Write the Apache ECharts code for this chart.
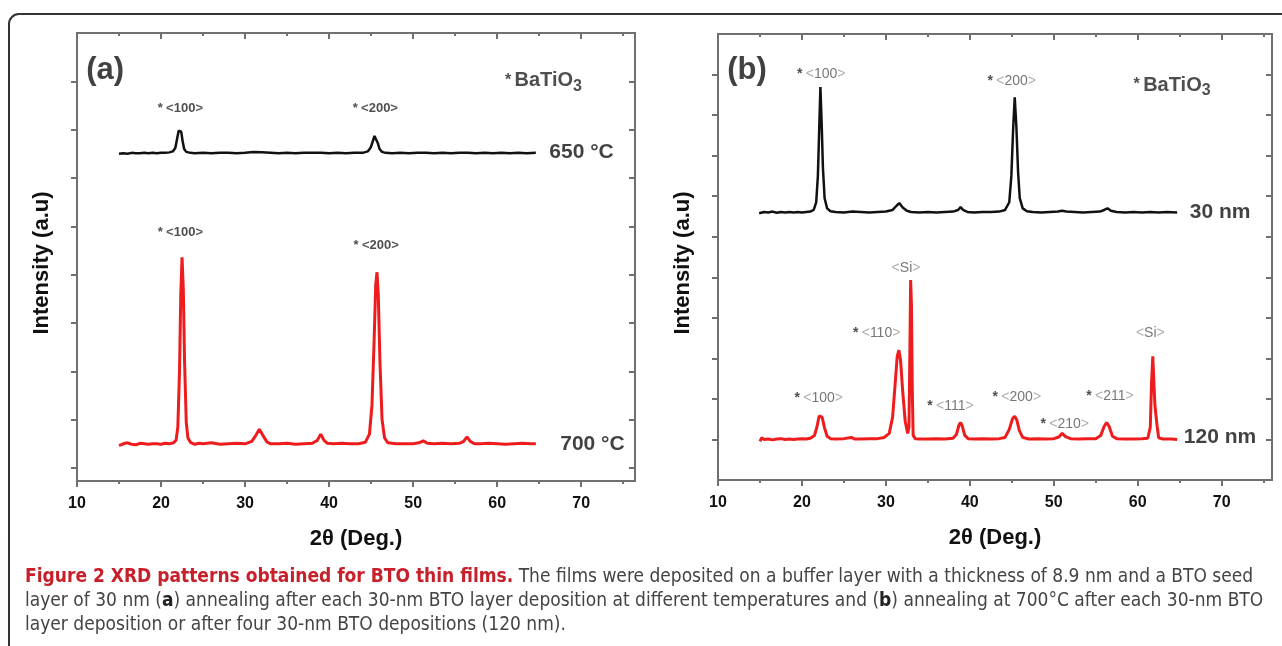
<!DOCTYPE html>
<html>
<head>
    <meta charset="utf-8">
    <title>XRD BTO</title>
    <script src="https://cdn.jsdelivr.net/npm/echarts@6/dist/echarts.min.js"></script>
    <style>
        html, body { margin: 0; padding: 0; background: #fff; }
        #chart { width: 1282px; height: 646px; }
    </style>
</head>
<body>
<div id="chart"></div>
<script type="text/javascript">
    // 2theta (deg) vs intensity (a.u., one unit = one y tick)
    var a650 = [[15.0,6.50],[15.5,6.51],[16,6.50],[16.5,6.52],[17,6.51],[17.5,6.51],[18,6.52],[18.5,6.51],[19,6.52],[19.5,6.51],[20,6.52],[20.5,6.52],[21,6.53],[21.4,6.55],[21.7,6.62],[21.9,6.80],[22.1,6.98],[22.25,7.02],[22.4,6.96],[22.55,6.78],[22.75,6.60],[23.0,6.54],[23.5,6.52],[24,6.51],[25,6.52],[26,6.51],[27,6.52],[28,6.52],[29,6.51],[30,6.52],[31,6.54],[32,6.53],[33,6.52],[34,6.51],[35,6.52],[36,6.51],[37,6.52],[38,6.52],[39,6.52],[40,6.51],[41,6.52],[42,6.51],[43,6.52],[44,6.52],[44.6,6.55],[44.95,6.63],[45.2,6.76],[45.4,6.87],[45.5,6.88],[45.6,6.85],[45.8,6.72],[46.0,6.60],[46.3,6.54],[46.7,6.52],[47.5,6.51],[48.5,6.52],[49.5,6.51],[50.5,6.52],[51.5,6.52],[52.5,6.51],[53.5,6.52],[54.5,6.51],[55.5,6.52],[56.5,6.52],[57.5,6.51],[58.5,6.52],[59.5,6.51],[60.5,6.52],[61.5,6.51],[62.5,6.52],[63.5,6.51],[64.6,6.52]];
    var a700 = [[15,0.46],[15.5,0.50],[16,0.52],[16.5,0.49],[17,0.48],[17.5,0.51],[18,0.50],[18.5,0.49],[19,0.50],[19.5,0.50],[20,0.49],[20.5,0.51],[21,0.50],[21.5,0.52],[21.8,0.58],[22.0,0.85],[22.2,2.0],[22.35,3.6],[22.5,4.36],[22.65,3.7],[22.8,2.2],[23.0,0.95],[23.2,0.62],[23.5,0.53],[24,0.49],[24.5,0.51],[25,0.50],[26,0.52],[27,0.49],[28,0.50],[29,0.51],[30,0.50],[30.8,0.55],[31.3,0.68],[31.7,0.80],[32.1,0.68],[32.6,0.54],[33,0.50],[34,0.50],[35,0.51],[36,0.49],[37,0.50],[38,0.51],[38.6,0.57],[39.0,0.70],[39.4,0.57],[39.8,0.51],[40.5,0.50],[41.5,0.51],[42.5,0.50],[43.5,0.50],[44.3,0.53],[44.8,0.70],[45.1,1.3],[45.35,2.6],[45.55,3.8],[45.7,4.05],[45.85,3.6],[46.05,2.2],[46.3,1.0],[46.6,0.62],[47,0.52],[48,0.50],[49,0.50],[50,0.50],[50.7,0.52],[51.2,0.56],[51.7,0.51],[52.5,0.50],[53.5,0.51],[54.5,0.50],[55.5,0.51],[56.0,0.55],[56.4,0.64],[56.8,0.55],[57.3,0.50],[58,0.50],[59,0.51],[60,0.50],[61,0.49],[62,0.50],[63,0.51],[64,0.50],[64.6,0.50]];
    var b30 = [[14.9,5.58],[15.5,5.61],[16,5.60],[16.5,5.62],[17,5.59],[17.5,5.61],[18,5.60],[18.5,5.61],[19,5.60],[19.5,5.61],[20,5.60],[20.5,5.61],[21,5.62],[21.4,5.66],[21.7,5.85],[21.9,6.5],[22.05,7.6],[22.2,8.69],[22.35,7.8],[22.5,6.7],[22.7,5.95],[23.0,5.70],[23.4,5.63],[24,5.61],[25,5.60],[26,5.62],[27,5.61],[28,5.60],[29,5.61],[30,5.62],[30.8,5.66],[31.3,5.77],[31.6,5.83],[32.0,5.72],[32.5,5.64],[33,5.61],[34,5.60],[35,5.61],[36,5.60],[37,5.61],[38,5.62],[38.6,5.66],[38.9,5.73],[39.2,5.66],[39.7,5.61],[40.5,5.60],[41.5,5.61],[42.5,5.61],[43.5,5.62],[44.2,5.66],[44.7,5.85],[44.95,6.5],[45.15,7.6],[45.35,8.44],[45.55,7.7],[45.75,6.6],[45.95,5.95],[46.3,5.70],[46.8,5.63],[47.5,5.61],[48.5,5.60],[49.5,5.61],[50.5,5.62],[51,5.64],[51.5,5.62],[52.5,5.61],[53.5,5.60],[54.5,5.61],[55.5,5.62],[56.0,5.66],[56.4,5.70],[56.8,5.64],[57.5,5.61],[58.5,5.60],[59.5,5.61],[60.5,5.60],[61.5,5.61],[62.5,5.60],[63.5,5.61],[64.7,5.60]];
    var b120 = [[15,-0.05],[15.2,0.04],[15.5,0.00],[16,0.01],[16.5,-0.01],[17,0.01],[17.5,0.02],[18,0.00],[18.5,0.01],[19,0.00],[19.5,0.01],[20,0.02],[20.5,0.01],[21,0.03],[21.5,0.10],[21.8,0.32],[22.05,0.58],[22.2,0.62],[22.4,0.55],[22.7,0.28],[23.0,0.08],[23.4,0.02],[24,0.01],[25,0.02],[25.9,0.05],[26.3,0.01],[27,0.01],[28,0.02],[29,0.02],[29.8,0.05],[30.4,0.15],[30.8,0.55],[31.1,1.35],[31.35,2.05],[31.55,2.2],[31.75,1.95],[32.0,1.2],[32.3,0.45],[32.6,0.15],[32.75,0.3],[32.85,2.0],[32.95,3.93],[33.05,3.3],[33.15,1.2],[33.25,0.1],[33.5,0.02],[34,0.01],[35,0.01],[36,0.02],[37,0.01],[38,0.03],[38.4,0.12],[38.7,0.35],[38.9,0.42],[39.1,0.33],[39.4,0.10],[39.8,0.02],[40.5,0.01],[41.5,0.02],[42.5,0.01],[43.5,0.02],[44.2,0.05],[44.7,0.25],[45.1,0.52],[45.35,0.57],[45.6,0.48],[45.9,0.22],[46.3,0.05],[47,0.01],[48,0.02],[49,0.01],[50,0.02],[50.6,0.06],[51.0,0.15],[51.4,0.07],[52,0.02],[53,0.01],[54,0.02],[55,0.02],[55.6,0.10],[56.0,0.32],[56.3,0.42],[56.6,0.32],[57.0,0.08],[57.5,0.02],[58.5,0.01],[59.5,0.01],[60.5,0.02],[61.2,0.03],[61.5,0.3],[61.65,1.4],[61.8,2.05],[61.95,1.3],[62.05,0.85],[62.15,0.89],[62.3,0.35],[62.5,0.04],[63,0.01],[64,0.01],[64.7,0.0]];

    // tick positions / labels
    var xMajor = [10, 20, 30, 40, 50, 60, 70];
    var xMinor = [15, 25, 35, 45, 55, 65, 75];
    var yTicksA = [0, 1, 2, 3, 4, 5, 6, 7, 8];
    var yTicksB = [0, 1, 2, 3, 4, 5, 6, 7, 8, 9];

    // annotations: [2theta, intensity, text]
    var peakLabelsA = [[22.3, 7.44, '* <100>'], [45.5, 7.44, '* <200>'], [22.3, 4.88, '* <100>'], [45.6, 4.61, '* <200>']];
    var sampleNamesA = [[66.2, 6.53, '650 °C'], [67.5, 0.50, '700 °C']];
    var peakLabelsB = [[22.3, 9.01, '* <100>'], [45.0, 8.84, '* <200>'], [32.4, 4.22, '<Si>'], [28.9, 2.62, '* <110>'],
        [22.0, 1.01, '* <100>'], [37.7, 0.81, '* <111>'], [45.6, 1.04, '* <200>'], [51.3, 0.37, '* <210>'],
        [56.7, 1.06, '* <211>'], [61.5, 2.62, '<Si>']];
    var sampleNamesB = [[66.2, 5.60, '30 nm'], [65.5, 0.05, '120 nm']];
    var phaseLabels = [[65.5, 8.02, 'BaTiO3'], [64.1, 8.74, 'BaTiO3']];
    var panelLetters = [[11.1, 8.22, '(a)'], [11.1, 9.11, '(b)']];

    var axisColor = '#707070';
    var fontMain = 'Liberation Sans, Arial, sans-serif';
    var capFont = '"DejaVu Sans Condensed", "Liberation Sans Narrow", sans-serif';

    function peakRich(t) {
        return t.replace(/\*/g, '{ast|*}').replace(/<([^>]+)>/g, '{br|<}{num|$1}{br|>}');
    }

    function xAxes(grid, max) {
        var base = {
            gridIndex: grid, type: 'value', min: 10, max: max,
            splitLine: {show: false},
            axisLine: {onZero: false, lineStyle: {color: axisColor, width: 2}}
        };
        return [
            Object.assign({}, base, {
                position: 'bottom',
                name: '2θ (Deg.)', nameLocation: 'middle', nameGap: 47,
                nameTextStyle: {fontFamily: fontMain, fontWeight: 'bold', fontSize: 22, color: '#111'},
                axisTick: {customValues: xMajor, length: 6, lineStyle: {color: axisColor, width: 2}},
                axisLabel: {customValues: xMajor, margin: 15, fontFamily: fontMain, fontWeight: 'bold', fontSize: 16, color: '#111'}
            }),
            Object.assign({}, base, {
                position: 'bottom',
                axisTick: {customValues: xMinor, length: 3, lineStyle: {color: axisColor, width: 2}},
                axisLabel: {show: false}
            }),
            Object.assign({}, base, {
                position: 'top',
                axisTick: {customValues: xMajor, inside: true, length: 6, lineStyle: {color: axisColor, width: 2}},
                axisLabel: {show: false}
            }),
            Object.assign({}, base, {
                position: 'top',
                axisTick: {customValues: xMinor, inside: true, length: 3, lineStyle: {color: axisColor, width: 2}},
                axisLabel: {show: false}
            })
        ];
    }

    function yAxes(grid, min, max, ticks) {
        var base = {
            gridIndex: grid, type: 'value', min: min, max: max,
            splitLine: {show: false},
            axisLine: {show: true, onZero: false, lineStyle: {color: axisColor, width: 2}},
            axisLabel: {show: false}
        };
        return [
            Object.assign({}, base, {
                position: 'left',
                name: 'Intensity (a.u)', nameLocation: 'middle', nameGap: 24,
                nameTextStyle: {fontFamily: fontMain, fontWeight: 'bold', fontSize: 22, color: '#111', padding: [0, 12, 0, 0]},
                axisTick: {customValues: ticks, length: 6, lineStyle: {color: axisColor, width: 2}}
            }),
            Object.assign({}, base, {
                position: 'right',
                axisTick: {customValues: ticks, inside: true, length: 6, lineStyle: {color: axisColor, width: 2}}
            })
        ];
    }

    function textSeries(xi, yi, data, label) {
        return {
            type: 'scatter', xAxisIndex: xi, yAxisIndex: yi, data: data,
            symbolSize: 0, silent: true, z: 5,
            label: Object.assign({show: true}, label)
        };
    }

    function curve(xi, yi, data, color, width) {
        return {
            type: 'line', xAxisIndex: xi, yAxisIndex: yi, data: data,
            showSymbol: false, symbol: 'none', lineStyle: {color: color, width: width}, z: 3
        };
    }

    var richA = {
        ast: {fontFamily: fontMain, fontSize: 13, fontWeight: 'bold', color: '#222'},
        br: {fontFamily: fontMain, fontSize: 13, fontWeight: 'bold', color: '#333'},
        num: {fontFamily: fontMain, fontSize: 13, fontWeight: 'bold', color: '#222'}
    };
    var richB = {
        ast: {fontFamily: fontMain, fontSize: 14, fontWeight: 'bold', color: '#222'},
        br: {fontFamily: fontMain, fontSize: 14, color: '#9a9a9a'},
        num: {fontFamily: fontMain, fontSize: 14, color: '#555'}
    };
    var richPhase = {
        ast: {fontFamily: fontMain, fontSize: 16, fontWeight: 'bold', color: '#222'},
        n: {fontFamily: fontMain, fontSize: 20, fontWeight: 'bold', color: '#222'},
        sub: {fontFamily: fontMain, fontSize: 16, fontWeight: 'bold', color: '#222', padding: [12, 0, 0, 0]}
    };
    var nameStyle = {fontFamily: fontMain, fontWeight: 'bold', fontSize: 21, color: '#111'};
    var letterStyle = {fontFamily: fontMain, fontWeight: 'bold', fontSize: 31, color: '#111'};

    function onlyPanel(arr, i) { return [arr[i]]; }
    function third(p) { return p.value[2]; }

    var chart = echarts.init(document.getElementById('chart'), null, {renderer: 'canvas'});
    var option = {
        animation: false,
        backgroundColor: '#fff',
        grid: [
            {left: 77, top: 33, width: 558, height: 448},
            {left: 718, top: 34, width: 554, height: 446}
        ],
        xAxis: xAxes(0, 76.4).concat(xAxes(1, 76)),
        yAxis: yAxes(0, -0.27, 9, yTicksA).concat(yAxes(1, -1, 10, yTicksB)),
        series: [
            curve(0, 0, a650, '#111', 2.5),
            curve(0, 0, a700, '#ee1c1c', 3),
            curve(4, 2, b30, '#111', 2.5),
            curve(4, 2, b120, '#ee1c1c', 3),
            textSeries(0, 0, peakLabelsA, {position: 'inside', formatter: function (p) { return peakRich(p.value[2]); }, rich: richA}),
            textSeries(4, 2, peakLabelsB, {position: 'inside', formatter: function (p) { return peakRich(p.value[2]); }, rich: richB}),
            textSeries(0, 0, sampleNamesA, Object.assign({position: 'right', distance: 0, formatter: third}, nameStyle)),
            textSeries(4, 2, sampleNamesB, Object.assign({position: 'right', distance: 0, formatter: third}, nameStyle)),
            textSeries(0, 0, onlyPanel(phaseLabels, 0), {position: 'inside', formatter: '{ast|*} {n|BaTiO}{sub|3}', rich: richPhase}),
            textSeries(4, 2, onlyPanel(phaseLabels, 1), {position: 'inside', formatter: '{ast|*} {n|BaTiO}{sub|3}', rich: richPhase}),
            textSeries(0, 0, onlyPanel(panelLetters, 0), Object.assign({position: 'right', distance: 0, formatter: third}, letterStyle)),
            textSeries(4, 2, onlyPanel(panelLetters, 1), Object.assign({position: 'right', distance: 0, formatter: third}, letterStyle))
        ],
        graphic: [
            {
                type: 'rect', shape: {x: 9, y: 14, width: 1320, height: 700, r: 10},
                style: {fill: 'none', stroke: '#333', lineWidth: 2}, silent: true
            },
            {
                type: 'text', x: 25, y: 577,
                style: {
                    text: '{b|Figure 2 XRD patterns obtained for BTO thin films.} The films were deposited on a buffer layer with a thickness of 8.9 nm and a BTO seed',
                    verticalAlign: 'middle', font: '19px ' + capFont, fill: '#444',
                    rich: {b: {fontWeight: 'bold', fill: '#c8202a', fontSize: 19, fontFamily: capFont}}
                }
            },
            {
                type: 'text', x: 25, y: 601,
                style: {
                    text: 'layer of 30 nm ({b|a}) annealing after each 30-nm BTO layer deposition at different temperatures and ({b|b}) annealing at 700°C after each 30-nm BTO',
                    verticalAlign: 'middle', font: '19px ' + capFont, fill: '#444',
                    rich: {b: {fontWeight: 'bold', fill: '#222', fontSize: 19, fontFamily: capFont}}
                }
            },
            {
                type: 'text', x: 25, y: 625,
                style: {
                    text: 'layer deposition or after four 30-nm BTO depositions (120 nm).',
                    verticalAlign: 'middle', font: '19px ' + capFont, fill: '#444'
                }
            }
        ]
    };
    chart.setOption(option);
</script>
</body>
</html>
